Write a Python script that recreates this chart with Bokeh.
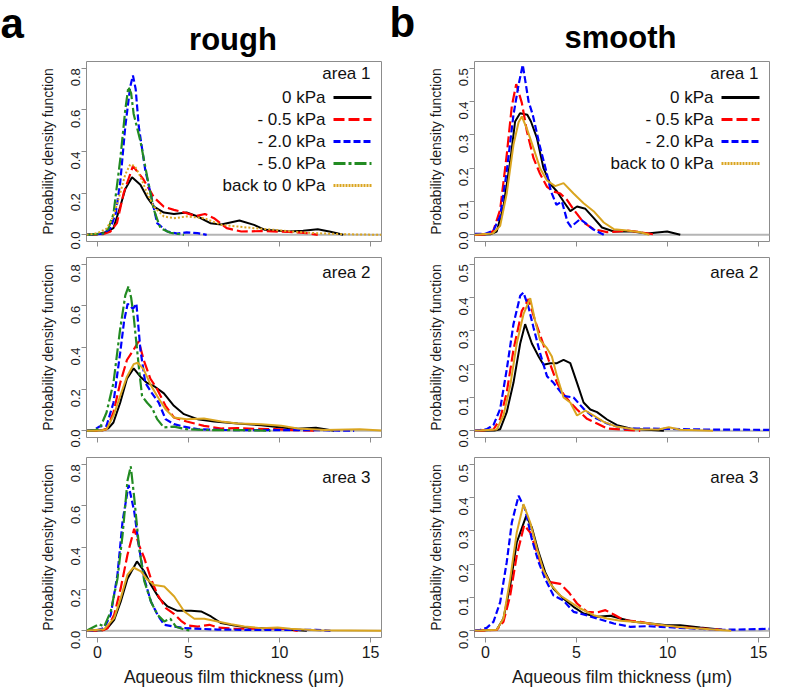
import math
from bokeh.plotting import figure
from bokeh.layouts import gridplot, column
from bokeh.models import FixedTicker, PrintfTickFormatter, Span, Label, Range1d
from bokeh.embed import file_html
from bokeh.resources import INLINE

FONT = "Liberation Sans"

# ---------------- data ----------------
x_ticks = [0, 5, 10, 15]
y_ticks_rough = [0.0, 0.2, 0.4, 0.6, 0.8]
y_ticks_smooth = [0.0, 0.1, 0.2, 0.3, 0.4, 0.5]
series_names = ["0 kPa", "- 0.5 kPa", "- 2.0 kPa", "- 5.0 kPa", "back to 0 kPa"]
area_names = ["area 1", "area 2", "area 3"]
panel_letters = ["a", "b"]
panel_titles = ["rough", "smooth"]

# rough, area 1
r1_black_x = [-0.6, 0.0, 0.5, 0.88, 1.25, 1.53, 1.9, 2.36, 2.73, 3.1, 3.65, 4.2, 4.9, 5.5, 6.2, 6.8, 7.8, 8.6, 9.2, 10.5, 11.3, 12.1, 12.8, 13.5]
r1_black_y = [0.0, 0.003, 0.014, 0.032, 0.135, 0.22, 0.276, 0.24, 0.18, 0.135, 0.107, 0.10, 0.107, 0.088, 0.056, 0.05, 0.069, 0.048, 0.024, 0.016, 0.02, 0.027, 0.015, 0.0]
r1_red_x = [-0.6, 0.3, 0.7, 1.07, 1.44, 1.95, 2.5, 3.1, 3.65, 4.2, 4.9, 5.4, 5.9, 6.4, 7.1, 7.9, 9.0, 10.5, 11.5, 12.1]
r1_red_y = [0.0, 0.003, 0.015, 0.056, 0.2, 0.33, 0.27, 0.18, 0.135, 0.12, 0.104, 0.09, 0.10, 0.08, 0.032, 0.016, 0.018, 0.014, 0.008, 0.0]
r1_blue_x = [-0.6, 0.3, 0.7, 1.0, 1.25, 1.53, 1.8, 1.95, 2.1, 2.27, 2.63, 3.0, 3.28, 3.83, 4.4, 4.9, 5.5, 6.0]
r1_blue_y = [0.0, 0.005, 0.03, 0.10, 0.25, 0.52, 0.71, 0.765, 0.70, 0.52, 0.31, 0.167, 0.056, 0.016, 0.006, 0.012, 0.008, 0.0]
r1_green_x = [-0.6, 0.3, 0.6, 0.88, 1.25, 1.53, 1.7, 1.85, 1.99, 2.36, 2.73, 3.1, 3.46, 4.0, 4.75]
r1_green_y = [0.0, 0.006, 0.03, 0.10, 0.36, 0.6, 0.71, 0.68, 0.58, 0.45, 0.28, 0.12, 0.032, 0.01, 0.0]
r1_gold_x = [-0.6, 0.0, 0.5, 0.88, 1.25, 1.53, 1.8, 2.05, 2.36, 2.73, 3.1, 3.65, 4.2, 4.9, 5.85, 6.8, 7.7, 8.6, 9.7, 10.8, 12.0, 13.5, 15.6]
r1_gold_y = [0.0, 0.008, 0.03, 0.088, 0.2, 0.29, 0.338, 0.33, 0.28, 0.2, 0.135, 0.088, 0.08, 0.088, 0.08, 0.048, 0.04, 0.032, 0.024, 0.015, 0.008, 0.003, 0.0]

# rough, area 2
r2_black_x = [-0.6, 0.3, 0.6, 0.88, 1.25, 1.62, 1.99, 2.36, 2.73, 3.1, 3.65, 4.2, 4.75, 5.5, 6.4, 7.7, 9.0, 10.1, 11.0, 12.0, 13.0]
r2_black_y = [0.0, 0.003, 0.012, 0.04, 0.135, 0.25, 0.30, 0.26, 0.23, 0.215, 0.18, 0.12, 0.08, 0.056, 0.045, 0.035, 0.027, 0.016, 0.01, 0.015, 0.0]
r2_red_x = [-0.6, 0.2, 0.5, 0.88, 1.25, 1.62, 1.99, 2.27, 2.54, 2.91, 3.28, 3.74, 4.2, 4.9, 5.85, 6.8, 7.7, 8.6, 9.7, 11.0, 12.0]
r2_red_y = [0.0, 0.002, 0.008, 0.088, 0.23, 0.34, 0.39, 0.43, 0.34, 0.25, 0.2, 0.12, 0.064, 0.045, 0.024, 0.011, 0.013, 0.01, 0.008, 0.003, 0.0]
r2_blue_x = [-0.6, -0.2, 0.1, 0.3, 0.5, 0.88, 1.25, 1.47, 1.66, 1.8, 1.95, 2.14, 2.36, 2.63, 3.0, 3.37, 3.74, 4.2, 4.75, 5.5, 7.0, 10.0, 12.5, 14.1]
r2_blue_y = [0.0, 0.003, 0.02, 0.024, 0.024, 0.135, 0.375, 0.53, 0.61, 0.60, 0.585, 0.61, 0.39, 0.23, 0.18, 0.135, 0.056, 0.032, 0.02, 0.008, 0.004, 0.003, 0.003, 0.0]
r2_green_x = [-0.6, -0.1, 0.15, 0.5, 0.88, 1.25, 1.53, 1.71, 1.85, 1.99, 2.27, 2.45, 2.73, 3.0, 3.28, 3.65, 4.2, 4.9, 6.0, 8.0, 9.5]
r2_green_y = [0.0, 0.003, 0.016, 0.088, 0.23, 0.49, 0.65, 0.694, 0.64, 0.55, 0.31, 0.167, 0.135, 0.11, 0.056, 0.016, 0.02, 0.008, 0.004, 0.003, 0.0]
r2_gold_x = [-0.6, 0.2, 0.5, 0.88, 1.25, 1.62, 1.99, 2.21, 2.54, 2.91, 3.28, 3.74, 4.2, 4.9, 5.85, 6.8, 7.7, 9.0, 10.1, 11.0, 12.5, 14.4, 15.6]
r2_gold_y = [0.0, 0.002, 0.008, 0.072, 0.167, 0.26, 0.32, 0.327, 0.295, 0.223, 0.167, 0.104, 0.064, 0.056, 0.059, 0.045, 0.035, 0.032, 0.024, 0.011, 0.004, 0.008, 0.002]

# rough, area 3
r3_black_x = [-0.6, 0.3, 0.55, 0.92, 1.28, 1.65, 2.17, 2.57, 2.94, 3.39, 3.85, 4.4, 5.14, 5.69, 6.24, 6.79, 7.52, 8.44, 9.36, 9.9, 10.6, 11.5]
r3_black_y = [0.0, 0.003, 0.013, 0.053, 0.14, 0.25, 0.333, 0.285, 0.22, 0.157, 0.117, 0.096, 0.096, 0.093, 0.069, 0.037, 0.026, 0.013, 0.013, 0.013, 0.005, 0.0]
r3_red_x = [-0.6, 0.3, 0.55, 0.92, 1.28, 1.65, 2.02, 2.29, 2.57, 2.94, 3.3, 3.76, 4.22, 4.59, 4.95, 5.5, 6.15, 6.6, 7.5, 9.36, 9.9, 11.0]
r3_red_y = [0.0, 0.003, 0.013, 0.077, 0.205, 0.365, 0.49, 0.41, 0.35, 0.25, 0.173, 0.109, 0.08, 0.048, 0.026, 0.02, 0.029, 0.016, 0.01, 0.01, 0.013, 0.0]
r3_blue_x = [-0.6, 0.0, 0.37, 0.73, 1.1, 1.38, 1.71, 2.02, 2.29, 2.57, 2.94, 3.3, 3.67, 4.22, 4.77, 6.6, 9.0, 12.0, 12.8]
r3_blue_y = [0.0, 0.004, 0.013, 0.077, 0.27, 0.525, 0.70, 0.573, 0.4, 0.25, 0.14, 0.077, 0.029, 0.02, 0.013, 0.006, 0.004, 0.005, 0.0]
r3_green_x = [-0.6, -0.18, 0.09, 0.37, 0.73, 1.1, 1.38, 1.65, 1.83, 2.02, 2.29, 2.57, 2.94, 3.3, 3.67, 4.0, 4.31, 4.77, 5.2]
r3_green_y = [0.0, 0.02, 0.032, 0.02, 0.093, 0.25, 0.46, 0.72, 0.79, 0.64, 0.4, 0.24, 0.14, 0.077, 0.045, 0.058, 0.02, 0.006, 0.0]
r3_gold_x = [-0.6, 0.37, 0.92, 1.28, 1.65, 1.98, 2.39, 2.75, 3.12, 3.67, 4.22, 4.77, 5.32, 5.87, 6.6, 7.34, 8.07, 8.99, 9.9, 10.6, 12.0, 15.6]
r3_gold_y = [0.0, 0.008, 0.061, 0.157, 0.27, 0.304, 0.285, 0.245, 0.22, 0.213, 0.165, 0.093, 0.058, 0.058, 0.045, 0.032, 0.021, 0.013, 0.016, 0.01, 0.003, 0.0]

# smooth, area 1
s1_black_x = [-0.6, 0.3, 0.62, 0.99, 1.36, 1.63, 1.9, 2.3, 2.5, 2.83, 3.19, 3.56, 3.93, 4.29, 4.66, 5.03, 5.49, 5.94, 6.4, 7.05, 7.96, 8.88, 9.98, 10.7]
s1_black_y = [0.0, 0.002, 0.01, 0.085, 0.22, 0.34, 0.365, 0.36, 0.34, 0.29, 0.2, 0.153, 0.13, 0.1, 0.071, 0.085, 0.078, 0.051, 0.022, 0.01, 0.011, 0.004, 0.01, 0.0]
s1_red_x = [-0.6, 0.2, 0.44, 0.81, 1.17, 1.45, 1.69, 2.0, 2.28, 2.64, 3.0, 3.38, 3.74, 4.11, 4.48, 4.84, 5.39, 5.94, 6.68, 7.3, 7.78, 8.5, 9.4]
s1_red_y = [0.0, 0.002, 0.013, 0.076, 0.24, 0.386, 0.452, 0.396, 0.31, 0.23, 0.183, 0.144, 0.13, 0.124, 0.105, 0.076, 0.037, 0.017, 0.008, 0.01, 0.013, 0.008, 0.0]
s1_blue_x = [-0.6, 0.0, 0.44, 0.81, 1.17, 1.54, 1.82, 2.05, 2.37, 2.6, 2.97, 3.3, 3.6, 3.9, 4.2, 4.5, 4.7, 5.2, 5.5, 5.9, 6.5]
s1_blue_y = [0.003, 0.003, 0.013, 0.056, 0.19, 0.36, 0.45, 0.51, 0.40, 0.36, 0.27, 0.2, 0.13, 0.09, 0.1, 0.04, 0.024, 0.047, 0.035, 0.017, 0.0]
s1_gold_x = [-0.6, 0.4, 0.81, 1.17, 1.54, 1.82, 2.0, 2.28, 2.64, 3.0, 3.38, 3.83, 4.29, 4.84, 5.39, 5.94, 6.5, 7.05, 7.78, 8.5, 9.0]
s1_gold_y = [0.0, 0.004, 0.027, 0.124, 0.27, 0.338, 0.355, 0.318, 0.26, 0.2, 0.163, 0.146, 0.155, 0.124, 0.095, 0.071, 0.037, 0.017, 0.013, 0.008, 0.0]

# smooth, area 2
s2_black_x = [-0.6, 0.5, 0.81, 1.17, 1.54, 1.91, 2.18, 2.55, 2.92, 3.19, 3.56, 3.93, 4.29, 4.66, 5.03, 5.39, 5.76, 6.13, 6.68, 7.23, 7.96, 8.88, 9.8]
s2_black_y = [0.0, 0.001, 0.005, 0.056, 0.144, 0.262, 0.32, 0.262, 0.223, 0.198, 0.203, 0.203, 0.213, 0.203, 0.144, 0.085, 0.064, 0.056, 0.034, 0.017, 0.007, 0.003, 0.0]
s2_red_x = [-0.6, 0.44, 0.81, 1.17, 1.54, 2.0, 2.37, 2.73, 3.1, 3.47, 3.93, 4.29, 4.66, 5.03, 5.58, 6.13, 6.68, 7.78, 8.5]
s2_red_y = [0.0, 0.004, 0.036, 0.115, 0.243, 0.36, 0.395, 0.33, 0.272, 0.213, 0.144, 0.11, 0.085, 0.064, 0.036, 0.022, 0.007, 0.003, 0.0]
s2_blue_x = [-0.6, 0.07, 0.44, 0.81, 1.17, 1.54, 1.91, 2.09, 2.37, 2.64, 3.0, 3.38, 3.74, 4.29, 4.84, 5.39, 5.94, 6.68, 7.6, 8.88, 12.0, 15.6]
s2_blue_y = [0.0, 0.005, 0.017, 0.066, 0.184, 0.32, 0.405, 0.415, 0.37, 0.31, 0.233, 0.164, 0.144, 0.105, 0.1, 0.066, 0.041, 0.022, 0.007, 0.007, 0.004, 0.003]
s2_gold_x = [-0.6, 0.62, 0.99, 1.36, 1.72, 2.09, 2.46, 2.73, 3.0, 3.38, 3.65, 3.93, 4.29, 4.66, 5.03, 5.49, 5.94, 6.5, 7.23, 8.15, 9.5, 10.07, 10.7, 12.5]
s2_gold_y = [0.0, 0.004, 0.046, 0.135, 0.262, 0.35, 0.398, 0.33, 0.272, 0.248, 0.223, 0.164, 0.1, 0.085, 0.046, 0.061, 0.046, 0.027, 0.012, 0.005, 0.004, 0.011, 0.003, 0.0]

# smooth, area 3
s3_black_x = [-0.6, 0.62, 0.99, 1.36, 1.72, 2.24, 2.55, 2.92, 3.28, 3.74, 4.29, 4.84, 5.39, 6.13, 6.86, 7.41, 8.15, 9.06, 9.98, 10.7, 11.8, 13.0]
s3_black_y = [0.0, 0.003, 0.037, 0.136, 0.265, 0.345, 0.31, 0.236, 0.176, 0.126, 0.096, 0.072, 0.052, 0.042, 0.045, 0.037, 0.027, 0.022, 0.017, 0.017, 0.01, 0.003]
s3_red_x = [-0.6, 0.62, 0.99, 1.36, 1.72, 2.13, 2.46, 2.83, 3.19, 3.56, 4.11, 4.57, 5.03, 5.58, 6.13, 6.59, 7.05, 7.6, 8.51, 9.43, 10.35, 11.3, 13.0]
s3_red_y = [0.0, 0.003, 0.027, 0.106, 0.226, 0.317, 0.295, 0.236, 0.176, 0.146, 0.141, 0.116, 0.082, 0.057, 0.055, 0.062, 0.049, 0.032, 0.027, 0.017, 0.012, 0.009, 0.003]
s3_blue_x = [-0.6, -0.29, 0.07, 0.44, 0.81, 1.17, 1.45, 1.82, 2.18, 2.55, 2.92, 3.28, 3.74, 4.29, 4.84, 5.39, 6.13, 7.05, 7.96, 8.88, 9.6, 10.7, 13.0, 15.6]
s3_blue_y = [0.0, 0.003, 0.009, 0.027, 0.086, 0.206, 0.325, 0.405, 0.365, 0.275, 0.206, 0.156, 0.106, 0.091, 0.057, 0.049, 0.037, 0.022, 0.012, 0.014, 0.012, 0.009, 0.003, 0.006]
s3_gold_x = [-0.6, 0.62, 0.99, 1.36, 1.72, 2.09, 2.46, 2.83, 3.19, 3.56, 4.11, 4.66, 5.21, 5.94, 6.68, 7.41, 8.15, 9.06, 9.98, 11.1, 12.5, 13.5]
s3_gold_y = [0.0, 0.003, 0.037, 0.156, 0.295, 0.38, 0.325, 0.246, 0.181, 0.141, 0.106, 0.086, 0.067, 0.047, 0.037, 0.03, 0.027, 0.022, 0.015, 0.009, 0.004, 0.0]

# ---------------- styles ----------------
COL = {"black": "#000000", "red": "#ff0000", "blue": "#0000ff", "green": "#228b22", "gold": "#daa520"}
DASH = {"black": "solid", "red": "11 4", "blue": "7 3", "green": "12 3 3 3", "gold": "2 2"}
WID = {"black": 2.0, "red": 2.2, "blue": 2.2, "green": 2.2, "gold": 2.0}
GREY = "#8c8c8c"

XR = (-0.6, 15.6)
FW, FH = 295, 180
LEFT_W, RIGHT_W = 414, 373
HEADER_H = 58


def dx(px):
    return XR[0] + px / FW * (XR[1] - XR[0])


def dy(px, yr):
    return yr[0] + px / FH * (yr[1] - yr[0])


def panel(curves, ymax, yticks, area, left_col, row, legend_keys=None, gold_dash="solid"):
    yr = (-0.04 * ymax, 1.04 * ymax)
    mbt = {0: 3, 1: 8, 2: 10}[row]
    mbb = {0: 8, 1: 10, 2: 53}[row]
    mbl = 86 if left_col else 60
    mbr = 33 if left_col else 18
    p = figure(width=(LEFT_W if left_col else RIGHT_W), height=mbt + FH + mbb,
               x_range=XR, y_range=yr, title=None,
               output_backend="svg", toolbar_location=None,
               min_border_left=mbl, min_border_right=mbr,
               min_border_top=mbt, min_border_bottom=mbb)
    p.xgrid.visible = False
    p.ygrid.visible = False
    p.outline_line_color = GREY
    p.outline_line_width = 1

    xa = p.xaxis[0]
    xa.ticker = FixedTicker(ticks=x_ticks)
    xa.bounds = (x_ticks[0], x_ticks[-1])
    xa.axis_line_color = GREY
    xa.major_tick_line_color = GREY
    xa.major_tick_in = 0
    xa.major_tick_out = 5
    xa.minor_tick_line_color = None
    xa.major_label_text_font = FONT
    if row == 2:
        xa.major_label_text_color = "#1a1a1a"
        xa.major_label_text_font_size = "16px"
        xa.major_label_standoff = 3
        xa.axis_label = "Aqueous film thickness (μm)"
        xa.axis_label_text_font = FONT
        xa.axis_label_text_font_size = "17.5px"
        xa.axis_label_text_font_style = "normal"
        xa.axis_label_text_color = "#1a1a1a"
        xa.axis_label_standoff = 6
    else:
        xa.major_label_text_color = None
        xa.major_label_text_font_size = "1px"
        xa.major_label_standoff = 0

    ya = p.yaxis[0]
    ya.ticker = FixedTicker(ticks=yticks)
    ya.bounds = (yticks[0], yticks[-1])
    ya.formatter = PrintfTickFormatter(format="%.1f")
    ya.axis_line_color = GREY
    ya.major_tick_line_color = GREY
    ya.major_tick_in = 0
    ya.major_tick_out = 5
    ya.minor_tick_line_color = None
    ya.major_label_orientation = math.pi / 2
    ya.major_label_text_font = FONT
    ya.major_label_text_font_size = "13px"
    ya.major_label_text_color = "#1a1a1a"
    ya.major_label_standoff = 6
    ya.axis_label = "Probability density function"
    ya.axis_label_text_font = FONT
    ya.axis_label_text_font_size = "14px"
    ya.axis_label_text_font_style = "normal"
    ya.axis_label_text_color = "#1a1a1a"
    ya.axis_label_standoff = 8

    p.add_layout(Span(location=0, dimension="width", line_color="#b5b5b5",
                      line_width=2, level="underlay"))

    for key, xs, ys in curves:
        dash = gold_dash if key == "gold" else DASH[key]
        p.line(xs, ys, line_color=COL[key], line_width=WID[key], line_dash=dash)

    area_off = {0: 12, 1: 15, 2: 20}[row]
    p.add_layout(Label(x=dx(FW - 11), y=dy(FH - area_off, yr), text=area,
                       text_align="right", text_baseline="middle",
                       text_font=FONT, text_font_size="17px", text_color="#111111"))

    if legend_keys:
        for i, (key, name) in enumerate(legend_keys):
            ry = FH - 36 - 22 * i
            p.add_layout(Label(x=dx(FW - 56), y=dy(ry, yr), text=name,
                               text_align="right", text_baseline="middle",
                               text_font=FONT, text_font_size="17px",
                               text_color="#111111"))
            p.line([dx(FW - 48), dx(FW - 10)], [dy(ry, yr), dy(ry, yr)],
                   line_color=COL[key], line_width=3,
                   line_dash=("2 1" if key == "gold" else DASH[key]))
    return p


# ---------------- header with panel letters and titles ----------------
header = figure(width=LEFT_W + RIGHT_W, height=HEADER_H, title=None,
                x_range=Range1d(0, LEFT_W + RIGHT_W), y_range=Range1d(HEADER_H, 0),
                x_axis_location=None, y_axis_location=None,
                output_backend="svg", toolbar_location=None,
                min_border_left=0, min_border_right=0, min_border_top=0, min_border_bottom=0)
header.grid.visible = False
header.outline_line_color = None
# (letter x, letter middle y, title centre x, title middle y) in header pixels
header_pos = [(0, 23, 232.5, 39), (389, 22, 620, 37)]
for (lx, ly, tx, ty), letter, ttl in zip(header_pos, panel_letters, panel_titles):
    header.add_layout(Label(x=lx, y=ly, text=letter, text_align="left",
                            text_baseline="middle", text_font=FONT,
                            text_font_size="42px", text_font_style="bold",
                            text_color="#000000"))
    header.add_layout(Label(x=tx, y=ty, text=ttl, text_align="center",
                            text_baseline="middle", text_font=FONT,
                            text_font_size="31px", text_font_style="bold",
                            text_color="#000000"))

keys5 = ["black", "red", "blue", "green", "gold"]
keys4 = ["black", "red", "blue", "gold"]
leg5 = list(zip(keys5, series_names))
leg4 = list(zip(keys4, [series_names[0], series_names[1], series_names[2], series_names[4]]))

pr1 = panel([("black", r1_black_x, r1_black_y), ("red", r1_red_x, r1_red_y),
             ("blue", r1_blue_x, r1_blue_y), ("green", r1_green_x, r1_green_y),
             ("gold", r1_gold_x, r1_gold_y)], 0.8, y_ticks_rough, area_names[0],
            True, 0, legend_keys=leg5, gold_dash="2 2")
pr2 = panel([("black", r2_black_x, r2_black_y), ("red", r2_red_x, r2_red_y),
             ("blue", r2_blue_x, r2_blue_y), ("green", r2_green_x, r2_green_y),
             ("gold", r2_gold_x, r2_gold_y)], 0.8, y_ticks_rough, area_names[1], True, 1)
pr3 = panel([("black", r3_black_x, r3_black_y), ("red", r3_red_x, r3_red_y),
             ("blue", r3_blue_x, r3_blue_y), ("green", r3_green_x, r3_green_y),
             ("gold", r3_gold_x, r3_gold_y)], 0.8, y_ticks_rough, area_names[2], True, 2)

ps1 = panel([("black", s1_black_x, s1_black_y), ("red", s1_red_x, s1_red_y),
             ("blue", s1_blue_x, s1_blue_y), ("gold", s1_gold_x, s1_gold_y)],
            0.5, y_ticks_smooth, area_names[0], False, 0, legend_keys=leg4)
ps2 = panel([("black", s2_black_x, s2_black_y), ("red", s2_red_x, s2_red_y),
             ("blue", s2_blue_x, s2_blue_y), ("gold", s2_gold_x, s2_gold_y)],
            0.5, y_ticks_smooth, area_names[1], False, 1)
ps3 = panel([("black", s3_black_x, s3_black_y), ("red", s3_red_x, s3_red_y),
             ("blue", s3_blue_x, s3_blue_y), ("gold", s3_gold_x, s3_gold_y)],
            0.5, y_ticks_smooth, area_names[2], False, 2)

grid = gridplot([[pr1, ps1], [pr2, ps2], [pr3, ps3]], toolbar_location=None)
page = column(header, grid, spacing=0)

open("out.html", "w").write(file_html(page, INLINE))
